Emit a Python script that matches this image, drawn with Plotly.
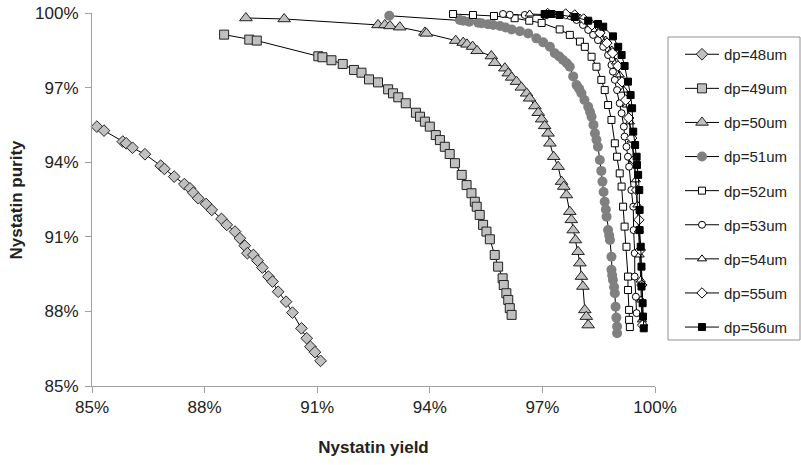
import plotly.graph_objects as go

# ---- data (percent) ----
yield_48 = [85.13, 85.32, 85.82, 85.91, 86.08, 86.41, 86.83, 86.93, 87.19, 87.46, 87.61, 87.70, 87.83, 88.04, 88.19,
            88.45, 88.59, 88.81, 88.94, 89.07, 89.14, 89.30, 89.41, 89.54, 89.70, 89.81, 89.96, 90.17, 90.34, 90.58,
            90.72, 90.82, 90.94, 91.09]
purity_48 = [95.43, 95.27, 94.83, 94.76, 94.58, 94.32, 93.86, 93.73, 93.42, 93.12, 92.95, 92.77, 92.55, 92.32, 92.08,
             91.72, 91.48, 91.21, 90.94, 90.64, 90.34, 90.27, 90.04, 89.76, 89.40, 89.20, 88.79, 88.39, 87.95, 87.32,
             86.92, 86.58, 86.36, 86.01]

yield_49 = [88.52, 89.19, 89.39, 91.03, 91.14, 91.38, 91.68, 91.98, 92.18, 92.38, 92.62, 92.89, 93.02, 93.16, 93.36,
            93.63, 93.74, 93.87, 94.00, 94.16, 94.27, 94.40, 94.53, 94.67, 94.85, 94.98, 95.11, 95.20, 95.25, 95.33,
            95.42, 95.51, 95.60, 95.73, 95.82, 95.94, 95.97, 96.04, 96.09, 96.13, 96.18]
purity_49 = [99.13, 98.93, 98.89, 98.26, 98.22, 98.10, 97.95, 97.71, 97.60, 97.33, 97.21, 96.93, 96.77, 96.61, 96.37,
             95.99, 95.83, 95.63, 95.43, 95.09, 94.89, 94.62, 94.33, 93.96, 93.49, 93.08, 92.75, 92.41, 92.21, 91.88,
             91.48, 91.21, 90.90, 90.27, 89.80, 89.33, 89.06, 88.73, 88.46, 88.13, 87.86]

yield_50 = [89.10, 90.12, 92.62, 92.80, 92.94, 93.20, 93.87, 93.91, 94.69, 94.89, 94.99, 95.14, 95.26, 95.64, 95.73,
            96.00, 96.09, 96.18, 96.31, 96.44, 96.58, 96.66, 96.80, 96.89, 96.98, 97.06, 97.15, 97.20, 97.30, 97.42,
            97.51, 97.57, 97.64, 97.73, 97.77, 97.82, 97.88, 97.95, 98.00, 98.04, 98.08, 98.13, 98.17, 98.22]
purity_50 = [99.80, 99.76, 99.52, 99.52, 99.48, 99.43, 99.22, 99.18, 98.89, 98.81, 98.74, 98.65, 98.48, 98.27, 98.00,
             97.78, 97.58, 97.41, 97.24, 97.01, 96.77, 96.57, 96.26, 95.99, 95.73, 95.46, 95.16, 94.76, 94.22, 93.82,
             93.22, 93.02, 92.68, 92.01, 91.68, 91.27, 90.87, 90.40, 89.94, 89.40, 89.00, 88.06, 87.79, 87.45]

yield_51 = [92.92, 94.80, 94.89, 95.05, 95.29, 95.38, 95.55, 95.69, 95.87, 96.02, 96.18, 96.40, 96.62, 96.84, 97.02,
            97.20, 97.33, 97.45, 97.55, 97.65, 97.73, 97.82, 97.91, 97.98, 98.04, 98.12, 98.22, 98.27, 98.31, 98.36,
            98.40, 98.44, 98.48, 98.53, 98.57, 98.60, 98.63, 98.66, 98.69, 98.71, 98.75, 98.78, 98.80, 98.84, 98.84,
            98.86, 98.88, 98.91, 98.93, 98.95, 98.97, 98.99, 98.99]
purity_51 = [99.89, 99.72, 99.69, 99.65, 99.61, 99.59, 99.55, 99.52, 99.48, 99.42, 99.34, 99.27, 99.18, 98.98, 98.82,
             98.64, 98.38, 98.25, 98.11, 97.98, 97.84, 97.45, 97.10, 96.95, 96.77, 96.50, 96.23, 96.02, 95.83, 95.50,
             95.16, 94.90, 94.62, 94.09, 93.65, 93.22, 92.80, 92.41, 92.10, 91.81, 91.27, 91.05, 90.87, 90.20, 89.67,
             89.45, 89.26, 88.98, 88.73, 88.19, 87.75, 87.39, 87.12]

yield_52 = [94.62, 95.15, 95.71, 96.26, 96.65, 96.98, 97.46, 97.73, 98.00, 98.13, 98.31, 98.44, 98.57, 98.66, 98.75,
            98.84, 98.93, 98.99, 99.06, 99.11, 99.15, 99.19, 99.24, 99.28, 99.28, 99.31, 99.31, 99.33]
purity_52 = [99.96, 99.92, 99.88, 99.79, 99.69, 99.60, 99.34, 99.12, 98.85, 98.64, 98.24, 97.84, 97.31, 96.90, 96.30,
             95.70, 94.76, 94.22, 93.55, 93.02, 92.21, 91.41, 90.60, 89.40, 88.86, 88.06, 87.66, 87.37]

yield_53 = [95.95, 96.13, 96.53, 97.06, 97.73, 97.91, 98.08, 98.22, 98.35, 98.48, 98.62, 98.75, 98.84, 98.88, 98.93,
            98.99, 99.06, 99.11, 99.17, 99.19, 99.24, 99.28, 99.31, 99.37, 99.42, 99.43, 99.46, 99.46, 99.49, 99.51]
purity_53 = [99.96, 99.93, 99.92, 99.90, 99.88, 99.72, 99.52, 99.32, 99.12, 98.91, 98.64, 98.31, 97.91, 97.64, 97.31,
             96.90, 96.37, 95.97, 95.43, 95.03, 94.62, 94.22, 93.82, 92.88, 92.21, 91.27, 90.34, 89.40, 88.59, 87.93]

yield_54 = [96.66, 97.36, 98.00, 98.32, 98.53, 98.69, 98.85, 98.96, 99.06, 99.17, 99.25, 99.33, 99.38, 99.43, 99.49,
            99.53, 99.57, 99.59, 99.62, 99.63, 99.65]
purity_54 = [99.96, 99.92, 99.80, 99.56, 99.32, 98.91, 98.51, 98.03, 97.51, 96.90, 96.30, 95.62, 94.89, 94.09, 93.29,
             92.28, 91.27, 90.27, 89.26, 88.46, 87.66]

yield_55 = [97.14, 97.62, 97.86, 98.10, 98.32, 98.53, 98.72, 98.87, 99.01, 99.12, 99.22, 99.30, 99.38, 99.45, 99.51,
            99.57, 99.61, 99.65, 99.67]
purity_55 = [99.98, 99.96, 99.92, 99.76, 99.52, 99.20, 98.79, 98.39, 97.87, 97.23, 96.50, 95.78, 94.97, 94.09, 92.88,
             91.68, 90.47, 89.06, 87.45]

yield_56 = [97.06, 97.24, 97.46, 97.86, 98.22, 98.48, 98.62, 98.88, 99.02, 99.11, 99.19, 99.28, 99.35, 99.39, 99.42,
            99.47, 99.51, 99.52, 99.55, 99.58, 99.59, 99.59, 99.62, 99.64, 99.64, 99.67, 99.68, 99.70]
purity_56 = [99.96, 99.96, 99.92, 99.84, 99.69, 99.56, 99.45, 99.06, 98.64, 98.31, 97.87, 97.24, 96.70, 96.17, 95.23,
             94.69, 94.22, 93.89, 93.49, 92.88, 92.08, 91.27, 90.60, 89.80, 89.00, 88.33, 87.79, 87.32]

series_names = ["dp=48um", "dp=49um", "dp=50um", "dp=51um", "dp=52um", "dp=53um", "dp=54um", "dp=55um", "dp=56um"]
x_ticks = [85, 88, 91, 94, 97, 100]
x_tick_labels = ["85%", "88%", "91%", "94%", "97%", "100%"]
y_ticks = [85, 88, 91, 94, 97, 100]
y_tick_labels = ["85%", "88%", "91%", "94%", "97%", "100%"]

xs = [yield_48, yield_49, yield_50, yield_51, yield_52, yield_53, yield_54, yield_55, yield_56]
ys = [purity_48, purity_49, purity_50, purity_51, purity_52, purity_53, purity_54, purity_55, purity_56]

styles = [
    dict(symbol="diamond", size=9, color="#c0c0c0", line=dict(color="#222222", width=1)),
    dict(symbol="square", size=9, color="#c0c0c0", line=dict(color="#222222", width=1)),
    dict(symbol="triangle-up", size=11, color="#c0c0c0", line=dict(color="#222222", width=1)),
    dict(symbol="circle", size=10, color="#808080", line=dict(color="#808080", width=0)),
    dict(symbol="square", size=7, color="#ffffff", line=dict(color="#000000", width=1)),
    dict(symbol="circle", size=7, color="#ffffff", line=dict(color="#000000", width=1)),
    dict(symbol="triangle-up", size=8, color="#ffffff", line=dict(color="#000000", width=1)),
    dict(symbol="diamond", size=8, color="#ffffff", line=dict(color="#000000", width=1)),
    dict(symbol="square", size=7, color="#000000", line=dict(color="#000000", width=1)),
]

fig = go.Figure()
for name, x, y, st in zip(series_names, xs, ys, styles):
    fig.add_trace(go.Scatter(
        x=x, y=y, mode="lines+markers", name=name, legendgroup=name,
        line=dict(color="#000000", width=1),
        marker=st, cliponaxis=False,
    ))

# page body margin is removed by post_script, so figure pixels == page pixels
W, H = 801, 465
PL, PR, PT, PB = 92, 655, 13, 386  # plot area in page pixels


def px_to_paper_x(px):
    return (px - PL) / (PR - PL)


def px_to_paper_y(py):
    return (PB - py) / (PB - PT)


axis_common = dict(
    showgrid=False, zeroline=False, showline=True, linecolor="#a0a0a0", linewidth=1,
    ticks="outside", ticklen=6, tickcolor="#a0a0a0", tickwidth=1,
    tickfont=dict(family="Liberation Sans, Arial", size=17, color="#222222"),
    mirror=False, ticklabeloverflow="allow",
)

fig.update_layout(
    width=W, height=H,
    margin=dict(l=PL, r=W - PR, t=PT, b=H - PB, autoexpand=False),
    paper_bgcolor="white", plot_bgcolor="white",
    font=dict(family="Liberation Sans, Arial", color="#222222"),
    xaxis=dict(range=[85, 100], tickmode="array", tickvals=x_ticks, ticktext=x_tick_labels,
               title=dict(text="<b>Nystatin yield</b>", font=dict(size=17), standoff=24),
               **axis_common),
    yaxis=dict(range=[85, 100], tickmode="array", tickvals=y_ticks, ticktext=y_tick_labels,
               ticklabelstandoff=3,
               **axis_common),
    annotations=[dict(text="<b>Nystatin purity</b>", xref="paper", yref="paper",
                      x=px_to_paper_x(16), y=0.5, xanchor="center", yanchor="middle",
                      textangle=-90, showarrow=False,
                      font=dict(family="Liberation Sans, Arial", size=17, color="#222222"))],
    legend=dict(
        x=px_to_paper_x(680), xanchor="left",
        y=px_to_paper_y(38), yanchor="top",
        bordercolor="rgba(0,0,0,0)", borderwidth=0, bgcolor="rgba(0,0,0,0)",
        font=dict(family="Liberation Sans, Arial", size=15, color="#222222"),
        tracegroupgap=11.6, itemwidth=34,
    ),
    shapes=[dict(type="rect", xref="paper", yref="paper",
                 x0=px_to_paper_x(668), x1=px_to_paper_x(800),
                 y0=px_to_paper_y(37), y1=px_to_paper_y(340),
                 line=dict(color="#909090", width=1), fillcolor="white", layer="below")],
    showlegend=True,
)

fig.write_html("out.html", config={"displayModeBar": False},
               post_script="document.body.style.margin='0px';")
